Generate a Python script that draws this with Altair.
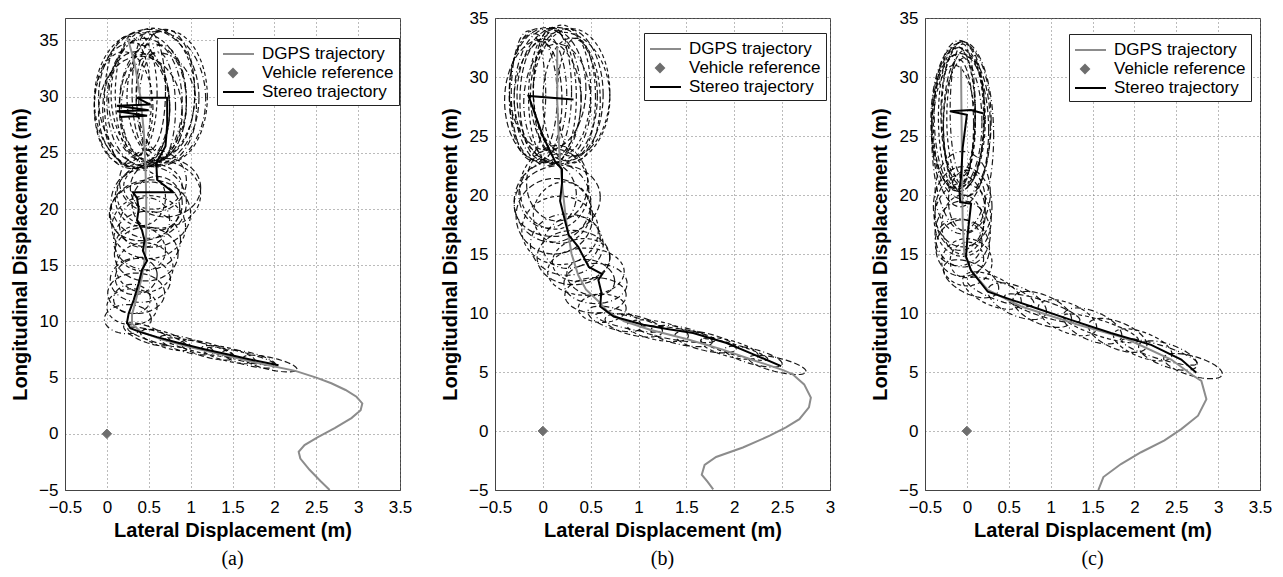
import altair as alt
import pandas as pd

# ---------------- data ----------------
SERIES = ["DGPS trajectory", "Vehicle reference", "Stereo trajectory"]
SERIES_COLORS = ["#8c8c8c", "#6e6e6e", "#000000"]
CAPTIONS = ["(a)", "(b)", "(c)"]

X_TICKS_A = [-0.5, 0, 0.5, 1, 1.5, 2, 2.5, 3, 3.5]
X_TICKS_B = [-0.5, 0, 0.5, 1, 1.5, 2, 2.5, 3]
X_TICKS_C = [-0.5, 0, 0.5, 1, 1.5, 2, 2.5, 3, 3.5]
Y_TICKS = [-5, 0, 5, 10, 15, 20, 25, 30, 35]
X_DOMAIN_A = [-0.5, 3.5]
X_DOMAIN_B = [-0.5, 3.0]
X_DOMAIN_C = [-0.5, 3.5]
Y_DOMAIN_A = [-5, 37]
Y_DOMAIN_B = [-5, 35]
Y_DOMAIN_C = [-5, 35]

VEHICLE_X = [0.0]
VEHICLE_Y = [0.0]

# panel (a)
DGPS_A_X = [2.66, 2.55, 2.42, 2.31, 2.29, 2.36, 2.52, 2.72, 2.92, 3.03, 3.05, 2.98, 2.85, 2.68,
            2.5, 2.25, 1.8, 1.4, 1.0, 0.65, 0.4, 0.3, 0.3, 0.35, 0.42, 0.46, 0.47, 0.47, 0.46,
            0.44, 0.4, 0.33, 0.25]
DGPS_A_Y = [-5.0, -4.2, -3.2, -2.2, -1.6, -1.0, -0.3, 0.5, 1.4, 2.1, 2.7, 3.3, 3.9, 4.5,
            5.0, 5.6, 6.3, 7.0, 7.7, 8.4, 9.1, 9.8, 10.6, 12.0, 14.0, 16.0, 18.0, 21.0, 24.0,
            27.0, 30.0, 33.0, 35.2]
STEREO_A_X = [2.05, 1.75, 1.45, 1.15, 0.85, 0.6, 0.4, 0.28, 0.24, 0.26, 0.32, 0.38, 0.42, 0.48,
              0.43, 0.45, 0.42, 0.36, 0.38, 0.36, 0.31, 0.79, 0.6, 0.59, 0.7, 0.72, 0.72, 0.36,
              0.52, 0.12, 0.5, 0.12, 0.48, 0.15]
STEREO_A_Y = [6.1, 6.55, 7.05, 7.55, 8.1, 8.6, 9.05, 9.4, 9.9, 10.7, 11.9, 13.4, 14.6, 15.4,
              16.3, 17.2, 18.1, 19.0, 20.0, 21.0, 21.5, 21.5, 22.6, 24.1, 25.6, 27.5, 29.9, 29.9,
              29.3, 29.2, 28.8, 28.7, 28.3, 28.2]
# uncertainty ellipses: centre (cx, cy), conjugate semi-axis vectors (ux, uy) and (vx, vy)
ELL_A = [
    (1.95, 6.25, 0.32, -0.50, 0.0, 0.55), (1.70, 6.65, 0.32, -0.55, 0.0, 0.60),
    (1.45, 7.05, 0.32, -0.55, 0.0, 0.60), (1.20, 7.45, 0.32, -0.60, 0.0, 0.65),
    (0.95, 7.90, 0.32, -0.60, 0.0, 0.65), (0.70, 8.35, 0.30, -0.65, 0.0, 0.70),
    (0.48, 8.85, 0.28, -0.70, 0.0, 0.75), (1.60, 6.90, 0.40, -0.70, 0.0, 0.40),
    (1.10, 7.70, 0.40, -0.70, 0.0, 0.45), (0.60, 8.60, 0.35, -0.75, 0.0, 0.50),
    (0.25, 10.2, 0.28, 0.0, 0.0, 1.3), (0.30, 11.3, 0.30, 0.0, 0.0, 1.6),
    (0.35, 12.5, 0.34, 0.0, 0.0, 1.8), (0.40, 13.7, 0.36, 0.0, 0.0, 2.0),
    (0.45, 14.8, 0.34, 0.0, 0.0, 2.2), (0.47, 16.0, 0.38, 0.0, 0.0, 2.4),
    (0.48, 17.2, 0.40, 0.0, 0.0, 2.6), (0.50, 18.4, 0.44, 0.0, 0.0, 2.8),
    (0.52, 19.6, 0.48, 0.0, 0.0, 3.0), (0.50, 20.6, 0.45, 0.0, 0.0, 3.2),
    (0.62, 21.3, 0.50, 0.0, 0.0, 3.0), (0.70, 21.9, 0.42, 0.0, 0.0, 2.6),
    (0.55, 22.5, 0.40, 0.0, 0.0, 2.8), (0.40, 21.0, 0.30, 0.0, 0.0, 2.5),
    (0.60, 20.5, 0.30, 0.0, 0.0, 2.4), (0.45, 18.8, 0.30, 0.20, 0.0, 2.2),
    (0.40, 16.5, 0.30, -0.20, 0.0, 2.0), (0.35, 14.0, 0.25, 0.15, 0.0, 1.6),
    (0.30, 12.0, 0.22, 0.0, 0.0, 1.3), (0.55, 22.0, 0.35, 0.0, 0.0, 2.0),
    (0.45, 19.8, 0.42, 0.30, 0.0, 2.6),
    (0.30, 29.2, 0.45, 0.0, 0.0, 5.6), (0.40, 29.7, 0.55, 0.0, 0.0, 6.0),
    (0.50, 29.9, 0.60, 0.0, 0.0, 6.1), (0.60, 29.8, 0.58, 0.0, 0.0, 6.0),
    (0.72, 30.0, 0.48, 0.0, 0.0, 5.9), (0.35, 28.8, 0.40, 0.0, 0.0, 5.2),
    (0.55, 29.4, 0.40, 0.0, 0.0, 5.3), (0.20, 29.0, 0.35, 0.0, 0.0, 5.0),
    (0.45, 29.0, 0.30, 0.0, 0.0, 4.8), (0.65, 29.6, 0.30, 0.0, 0.0, 5.0),
    (0.35, 30.2, 0.25, 0.0, 0.0, 5.5), (0.50, 30.5, 0.20, 0.0, 0.0, 5.3),
    (0.60, 29.0, 0.22, 0.0, 0.0, 5.0), (0.25, 29.6, 0.28, 0.0, 0.0, 5.8),
    (0.70, 30.4, 0.35, 0.0, 0.0, 5.6), (0.45, 29.5, 0.45, 0.0, 0.0, 5.7),
    (0.55, 30.2, 0.50, 0.0, 0.0, 5.9), (0.40, 28.6, 0.50, 0.0, 0.0, 5.0),
    (0.62, 28.9, 0.45, 0.0, 0.0, 5.0),
]

# panel (b)
DGPS_B_X = [1.78, 1.72, 1.66, 1.69, 1.81, 2.09, 2.37, 2.54, 2.68, 2.78, 2.80, 2.73, 2.61, 2.51,
            2.2, 1.88, 1.5, 1.12, 0.85, 0.68, 0.58, 0.45, 0.37, 0.3, 0.24, 0.2, 0.17, 0.15, 0.15]
DGPS_B_Y = [-4.94, -4.3, -3.7, -2.87, -2.2, -1.4, -0.4, 0.3, 1.0, 2.0, 2.83, 3.95, 4.8, 5.16,
            6.0, 6.9, 7.8, 8.58, 9.3, 10.1, 11.0, 12.0, 13.2, 15.0, 18.0, 21.0, 24.0, 28.0, 32.5]
STEREO_B_X = [2.49, 2.2, 1.92, 1.57, 1.3, 1.05, 0.74, 0.6, 0.61, 0.58, 0.62, 0.48, 0.37, 0.27,
              0.23, 0.18, 0.2, 0.2, 0.13, 0.0, -0.15, 0.32]
STEREO_B_Y = [5.5, 6.5, 7.46, 8.3, 8.65, 9.0, 9.7, 10.55, 11.8, 12.8, 13.3, 13.9, 15.6, 16.6,
              17.85, 19.5, 21.0, 22.2, 22.8, 25.0, 28.4, 28.1]
ELL_B = [
    (2.45, 5.60, 0.30, -0.55, 0.0, 0.60), (2.20, 6.30, 0.30, -0.60, 0.0, 0.65),
    (1.95, 7.00, 0.30, -0.60, 0.0, 0.70), (1.70, 7.55, 0.32, -0.55, 0.0, 0.75),
    (1.45, 8.05, 0.32, -0.50, 0.0, 0.75), (1.20, 8.50, 0.32, -0.45, 0.0, 0.80),
    (0.95, 8.95, 0.30, -0.50, 0.0, 0.85), (0.75, 9.50, 0.28, -0.60, 0.0, 0.90),
    (2.00, 6.90, 0.35, -0.80, 0.0, 0.45), (1.40, 8.20, 0.40, -0.50, 0.0, 0.50),
    (0.90, 9.20, 0.35, -0.60, 0.0, 0.55),
    (0.62, 10.4, 0.25, 0.0, 0.0, 1.2), (0.55, 11.5, 0.32, 0.0, 0.0, 1.5),
    (0.55, 12.5, 0.33, 0.0, 0.0, 1.7), (0.45, 13.5, 0.40, 0.0, 0.0, 2.0),
    (0.32, 14.7, 0.38, 0.0, 0.0, 2.3), (0.25, 15.8, 0.38, 0.0, 0.0, 2.6),
    (0.18, 17.0, 0.40, 0.0, 0.0, 2.9), (0.12, 18.2, 0.40, 0.0, 0.0, 3.2),
    (0.10, 19.4, 0.40, 0.0, 0.0, 3.4), (0.12, 20.5, 0.36, 0.0, 0.0, 3.4),
    (0.15, 21.0, 0.32, 0.0, 0.0, 3.2), (0.30, 16.0, 0.30, 0.30, 0.0, 2.2),
    (0.20, 18.5, 0.30, 0.20, 0.0, 2.6), (0.50, 13.0, 0.25, -0.30, 0.0, 1.5),
    (0.05, 20.0, 0.30, 0.0, 0.0, 2.8), (0.40, 14.5, 0.30, 0.20, 0.0, 1.8),
    (0.15, 19.5, 0.45, 0.30, 0.0, 3.0),
    (0.05, 28.3, 0.35, 0.0, 0.0, 5.8), (0.20, 28.2, 0.50, 0.0, 0.0, 5.6),
    (0.15, 28.4, 0.42, 0.0, 0.0, 5.8), (-0.05, 28.5, 0.30, 0.0, 0.0, 5.6),
    (0.10, 28.3, 0.25, 0.0, 0.0, 5.7), (0.25, 28.5, 0.38, 0.0, 0.0, 5.6),
    (-0.10, 28.3, 0.25, 0.0, 0.0, 5.4), (0.30, 28.0, 0.30, 0.0, 0.0, 5.3),
    (0.00, 28.0, 0.40, 0.0, 0.0, 5.2), (0.10, 28.8, 0.20, 0.0, 0.0, 5.4),
    (0.20, 28.9, 0.30, 0.0, 0.0, 5.5), (-0.02, 28.0, 0.22, 0.0, 0.0, 5.0),
    (0.15, 27.8, 0.35, 0.0, 0.0, 5.0), (0.35, 28.3, 0.20, 0.0, 0.0, 5.0),
    (0.05, 29.0, 0.40, 0.0, 0.0, 5.2), (-0.15, 28.6, 0.18, 0.0, 0.0, 5.3),
    (0.30, 28.7, 0.40, 0.0, 0.0, 5.4),
]

# panel (c)
DGPS_C_X = [1.57, 1.63, 1.84, 2.08, 2.36, 2.56, 2.76, 2.86, 2.80, 2.70, 2.44, 1.88, 1.33, 0.65,
            0.25, 0.05, -0.03, -0.05, -0.06, -0.07]
DGPS_C_Y = [-5.0, -3.9, -2.8, -1.8, -0.8, 0.16, 1.3, 2.7, 4.24, 4.7, 6.06, 7.9, 9.0, 10.55,
            11.95, 13.6, 15.0, 17.6, 24.0, 30.9]
STEREO_C_X = [2.74, 2.56, 2.2, 1.72, 1.25, 0.77, 0.5, 0.25, 0.05, -0.01, 0.01, 0.05, -0.08,
              -0.09, -0.07, -0.05, 0.0, -0.2, 0.05, 0.2]
STEREO_C_Y = [4.94, 6.06, 7.3, 8.3, 9.4, 10.55, 11.2, 11.8, 13.6, 14.8, 16.7, 19.25, 19.4,
              20.5, 21.5, 24.0, 26.8, 27.1, 27.2, 26.9]
ELL_C = [
    (2.70, 5.5, 0.35, -0.65, 0.0, 0.85), (2.40, 6.4, 0.35, -0.75, 0.0, 1.0),
    (2.10, 7.3, 0.35, -0.80, 0.0, 1.1), (1.80, 8.1, 0.35, -0.80, 0.0, 1.2),
    (1.50, 8.9, 0.35, -0.80, 0.0, 1.3), (1.20, 9.6, 0.35, -0.80, 0.0, 1.3),
    (0.90, 10.3, 0.35, -0.80, 0.0, 1.3), (0.60, 11.0, 0.35, -0.85, 0.0, 1.3),
    (0.30, 11.9, 0.35, -0.90, 0.0, 1.3), (0.05, 12.9, 0.33, -0.80, 0.0, 1.4),
    (2.30, 6.7, 0.45, -0.95, 0.0, 0.6), (1.60, 8.7, 0.45, -1.00, 0.0, 0.7),
    (0.90, 10.4, 0.45, -1.00, 0.0, 0.7), (0.40, 11.8, 0.40, -0.95, 0.0, 0.8),
    (0.00, 14.3, 0.30, 0.0, 0.0, 2.0), (-0.05, 15.5, 0.32, 0.0, 0.0, 2.4),
    (-0.05, 16.7, 0.33, 0.0, 0.0, 2.8), (-0.05, 17.9, 0.34, 0.0, 0.0, 3.1),
    (-0.05, 19.0, 0.35, 0.0, 0.0, 3.4), (-0.05, 20.2, 0.33, 0.0, 0.0, 3.5),
    (-0.05, 17.5, 0.25, 0.0, 0.0, 2.5), (0.00, 19.5, 0.22, 0.0, 0.0, 2.6),
    (-0.10, 16.0, 0.28, 0.0, 0.0, 2.0), (0.00, 14.5, 0.20, 0.10, 0.0, 1.5),
    (-0.08, 18.5, 0.30, 0.0, 0.0, 3.2),
    (-0.09, 26.7, 0.30, 0.0, 0.0, 6.4), (-0.10, 26.4, 0.32, 0.0, 0.0, 6.1),
    (-0.05, 26.9, 0.26, 0.0, 0.0, 6.1), (-0.12, 26.2, 0.30, 0.0, 0.0, 5.7),
    (-0.02, 26.5, 0.22, 0.0, 0.0, 5.8), (-0.08, 25.5, 0.34, 0.0, 0.0, 6.5),
    (-0.05, 25.0, 0.37, 0.0, 0.0, 8.0), (-0.10, 27.0, 0.20, 0.0, 0.0, 5.5),
    (-0.10, 26.0, 0.18, 0.0, 0.0, 5.5), (-0.05, 27.2, 0.15, 0.0, 0.0, 5.6),
    (-0.15, 25.8, 0.25, 0.0, 0.0, 5.2), (0.00, 25.8, 0.28, 0.0, 0.0, 5.9),
    (-0.07, 26.3, 0.36, 0.0, 0.0, 6.6), (-0.12, 26.6, 0.22, 0.0, 0.0, 6.0),
]

LEGEND_POS = [(152, 20), (149, 15), (144, 16)]

# ---------------- chart construction ----------------
FONT = "Liberation Sans"
PLOT_W, PLOT_H = 335, 472
MINUS_EXPR = "datum.value < 0 ? '\u2212' + format(-datum.value, '') : format(datum.value, '')"
LINE_SHAPE = "M-1,0H2.1"
DIAMOND_SHAPE = "M-0.4,0L0,-0.4L0.4,0L0,0.4Z"
SERIES_SHAPES = [LINE_SHAPE, DIAMOND_SHAPE, LINE_SHAPE]


def x_axis(ticks):
    return alt.Axis(values=ticks, title="Lateral Displacement (m)", grid=True, gridDash=[1, 3],
                    gridColor="#777777", gridWidth=1, ticks=False, domainColor="#444444",
                    labelFont=FONT, labelFontSize=17, labelColor="#000000", labelPadding=9,
                    labelFlush=False, labelOverlap=False, labelExpr=MINUS_EXPR,
                    titleFont=FONT, titleFontSize=20, titleFontWeight="bold",
                    titleColor="#000000", titlePadding=5)


def y_axis():
    return alt.Axis(values=Y_TICKS, title="Longitudinal Displacement (m)", grid=True,
                    gridDash=[1, 3], gridColor="#777777", gridWidth=1, ticks=False,
                    domainColor="#444444", labelFont=FONT, labelFontSize=17,
                    labelColor="#000000", labelPadding=7, labelFlush=False, labelOverlap=False,
                    labelExpr=MINUS_EXPR, titleFont=FONT, titleFontSize=20,
                    titleFontWeight="bold", titleColor="#000000", titlePadding=8)


def legend(lx, ly):
    return alt.Legend(
        title=None, orient="none", legendX=lx, legendY=ly, direction="vertical",
        fillColor="white", strokeColor="#222222", padding=5, symbolSize=400, rowPadding=0,
        labelOffset=18, labelFont=FONT, labelFontSize=17, labelColor="#000000", labelLimit=300,
        symbolStrokeWidth=2, symbolOpacity=1,
    )


def panel(idx, dgps_x, dgps_y, st_x, st_y, ells, xdom, ydom, xticks):
    xs = alt.Scale(domain=xdom, nice=False, zero=False)
    ys = alt.Scale(domain=ydom, nice=False, zero=False)
    ax, ay = x_axis(xticks), y_axis()
    lx, ly = LEGEND_POS[idx]
    lg = legend(lx, ly)
    cscale = alt.Scale(domain=SERIES, range=SERIES_COLORS)
    stroke = alt.Stroke("series:N", scale=cscale, legend=lg)
    fill = alt.Fill("series:N", scale=cscale, legend=lg)
    shape = alt.Shape("series:N", scale=alt.Scale(domain=SERIES, range=SERIES_SHAPES), legend=lg)

    traj = pd.DataFrame({
        "x": dgps_x + st_x,
        "y": dgps_y + st_y,
        "series": [SERIES[0]] * len(dgps_x) + [SERIES[2]] * len(st_x),
        "i": list(range(len(dgps_x))) + list(range(len(st_x))),
    })
    veh = pd.DataFrame({"x": VEHICLE_X, "y": VEHICLE_Y, "series": [SERIES[1]]})
    ell = pd.DataFrame(ells, columns=["cx", "cy", "ux", "uy", "vx", "vy"])
    ell["id"] = range(len(ell))

    ell_layer = (
        alt.Chart(ell)
        .transform_calculate(k="sequence(0, 61)")
        .transform_flatten(["k"])
        .transform_calculate(
            ex="datum.cx + datum.ux*cos(datum.k*PI/30) + datum.vx*sin(datum.k*PI/30)",
            ey="datum.cy + datum.uy*cos(datum.k*PI/30) + datum.vy*sin(datum.k*PI/30)",
            dash="'d' + (datum.id % 3)",
        )
        .mark_line(color="#000000", strokeWidth=1.2, opacity=0.9, clip=True)
        .encode(
            x=alt.X("ex:Q", scale=xs, axis=ax),
            y=alt.Y("ey:Q", scale=ys, axis=ay),
            detail="id:N",
            order="k:Q",
            strokeDash=alt.StrokeDash(
                "dash:N",
                scale=alt.Scale(domain=["d0", "d1", "d2"], range=[[6, 3], [6, 3, 1, 3], [4, 3]]),
                legend=None,
            ),
        )
    )
    traj_layer = (
        alt.Chart(traj)
        .mark_line(strokeWidth=2, clip=True)
        .encode(
            x=alt.X("x:Q", scale=xs, axis=ax),
            y=alt.Y("y:Q", scale=ys, axis=ay),
            stroke=stroke,
            detail="series:N",
            order="i:Q",
        )
    )
    veh_layer = (
        alt.Chart(veh)
        .mark_point(filled=True, size=560, opacity=1, strokeWidth=1)
        .encode(x=alt.X("x:Q", scale=xs, axis=ax), y=alt.Y("y:Q", scale=ys, axis=ay),
                fill=fill, stroke=stroke, shape=shape)
    )
    return alt.layer(ell_layer, traj_layer, veh_layer).properties(
        width=PLOT_W, height=PLOT_H,
        title=alt.TitleParams(CAPTIONS[idx], orient="bottom", font="Liberation Serif", fontSize=20,
                              fontWeight="normal", color="#000000", anchor="middle", offset=9),
    )


pa = panel(0, DGPS_A_X, DGPS_A_Y, STEREO_A_X, STEREO_A_Y, ELL_A, X_DOMAIN_A, Y_DOMAIN_A, X_TICKS_A)
pb = panel(1, DGPS_B_X, DGPS_B_Y, STEREO_B_X, STEREO_B_Y, ELL_B, X_DOMAIN_B, Y_DOMAIN_B, X_TICKS_B)
pc = panel(2, DGPS_C_X, DGPS_C_Y, STEREO_C_X, STEREO_C_Y, ELL_C, X_DOMAIN_C, Y_DOMAIN_C, X_TICKS_C)

chart = (
    alt.hconcat(pa, pb, pc, spacing=95, bounds="flush")
    .resolve_scale(fill="independent", stroke="independent", shape="independent")
    .resolve_legend(fill="independent", stroke="independent", shape="independent")
    .properties(padding={"left": 2, "top": 0, "right": 0, "bottom": 0}, background="white")
    .configure_view(stroke="#444444", strokeWidth=1)
)

chart.save("out.html", embed_options={"renderer": "svg", "actions": False})
